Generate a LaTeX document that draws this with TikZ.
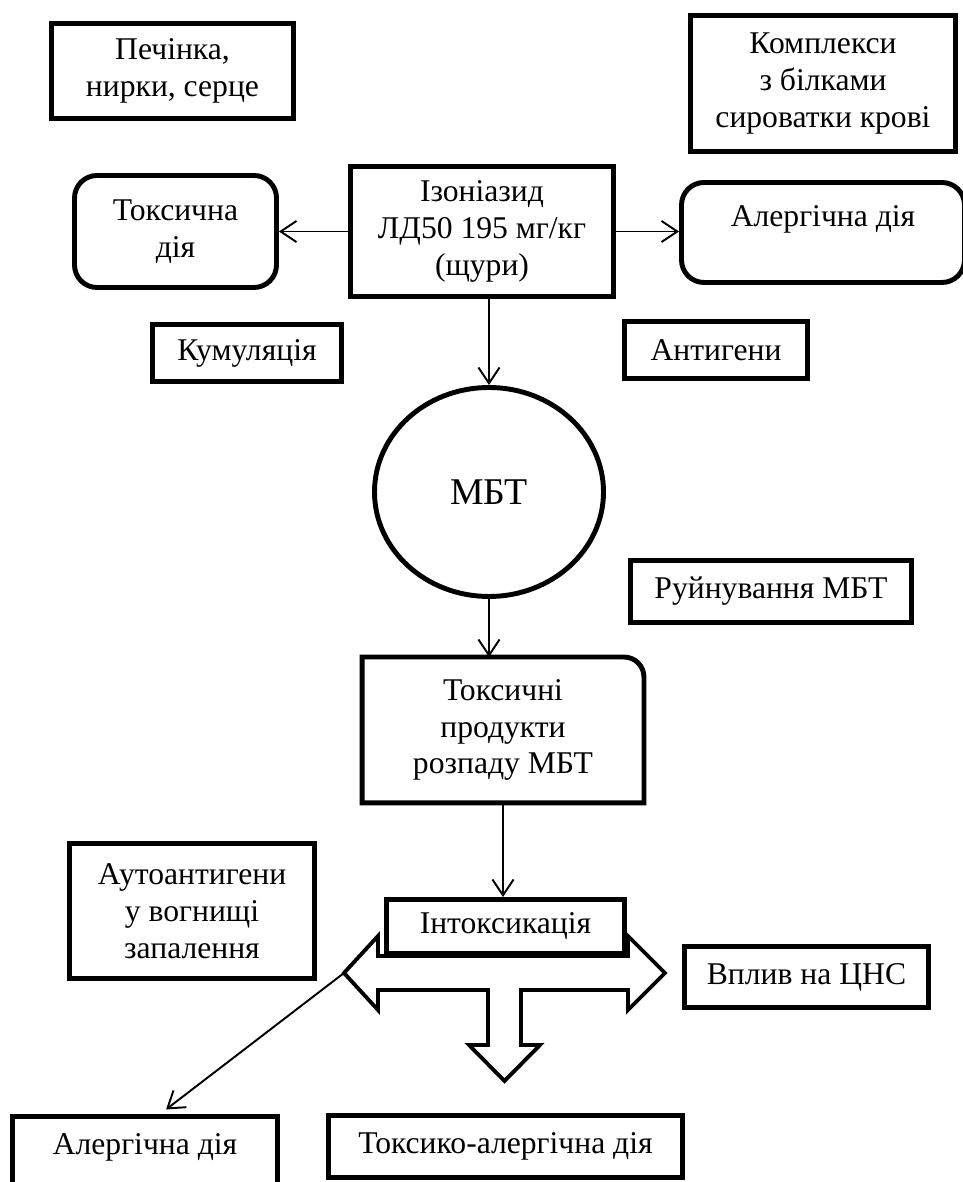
\documentclass[tikz,border=0pt]{standalone}
\usepackage{fontspec}
\setmainfont{Liberation Serif}
\usetikzlibrary{arrows.meta,shapes.geometric}
\tikzset{
	blok/.style={draw, line width=2.8pt, inner sep=0pt, align=center, fill=white},
	okrugl/.style={blok, rounded corners=0.45cm},
	strilka/.style={line width=1.1pt, -{Straight Barb[length=9pt,width=12pt]}},
}

\begin{document}
\begin{tikzpicture}[font=\fontsize{18}{21}\selectfont]
\useasboundingbox (0,0) rectangle (19.26,23.64);
	\node[blok, minimum width=4.84cm, minimum height=1.9cm] (pech) at (3.45,22.22) {Печінка,\\нирки, серце};
	\node[blok, minimum width=5.3cm, minimum height=2.72cm] (kompl) at (16.46,21.97) {Комплекси\\з білками\\сироватки крові};
	\node[okrugl, minimum width=4.04cm, minimum height=2.24cm] (toks) at (3.51,19.01) {Токсична\\дія};
	\node[blok, minimum width=5.26cm, minimum height=2.6cm] (izon) at (9.64,19.01) {Ізоніазид\\ЛД50 195 мг/кг\\(щури)};
	\node[okrugl, minimum width=5.66cm, text height=0.89cm, text depth=1.11cm] (alerg1) at (16.46,18.99) {Алергічна дія};
	\node[blok, minimum width=3.78cm, minimum height=1.14cm] (kumul) at (4.94,16.58) {Кумуляція};
	\node[blok, minimum width=3.66cm, minimum height=1.14cm] (antig) at (14.32,16.64) {Антигени};
	\node[blok, ellipse, minimum width=4.58cm, minimum height=4.18cm, font=\fontsize{21.5}{25}\selectfont] (mbt) at (9.78,13.8) {МБТ};
	\node[blok, minimum width=5.62cm, minimum height=1.24cm] (ruin) at (15.42,11.81) {Руйнування МБТ};
	\node[blok, draw=none, minimum width=5.54cm, minimum height=2.82cm] (prod) at (10.06,9.04) {Токсичні\\продукти\\розпаду МБТ};
	\draw[line width=2.8pt] (prod.south west) -- (prod.north west) -- ([xshift=-0.4cm]prod.north east) arc[start angle=90, end angle=0, radius=0.4cm] -- (prod.south east) -- cycle;
	\node[blok, minimum width=4.9cm, minimum height=2.7cm] (autoant) at (3.84,5.42) {Аутоантигени\\у вогнищі\\запалення};

	\coordinate (ltip) at (6.88,4.18);
	\draw[line width=2.2pt] (ltip) -- (7.56,4.92) -- (7.56,4.52) -- (12.56,4.52) -- (12.56,4.92) -- (13.30,4.18) -- (12.56,3.44) -- (12.56,3.84) -- (10.42,3.84) -- (10.42,2.74) -- (10.80,2.74) -- (10.09,2.02) -- (9.38,2.74) -- (9.76,2.74) -- (9.76,3.84) -- (7.56,3.84) -- (7.56,3.44) -- cycle;

	\node[blok, minimum width=4.76cm, minimum height=1.08cm] (intox) at (10.11,5.11) {Інтоксикація};
	\node[blok, minimum width=4.88cm, minimum height=1.22cm] (cns) at (16.13,4.1) {Вплив на ЦНС};
	\node[blok, anchor=north, minimum width=5.3cm, text height=0.75cm, text depth=1.3cm] (alerg2) at (2.9,1.35) {Алергічна дія};
	\node[blok, minimum width=7.08cm, minimum height=1.24cm] (toksal) at (10.11,0.71) {Токсико-алергічна дія};

	\draw[strilka] (izon) -- (toks);
	\draw[strilka] (izon.east) -- (izon.east -| alerg1.west);
	\draw[strilka] (izon.south -| mbt.north) -- (mbt.north);
	\draw[strilka] (mbt.south) -- (mbt.south |- prod.north);
	\draw[strilka] (prod.south) -- (prod.south |- intox.north);
	\draw[strilka] (ltip) -- ([xshift=0.42cm,yshift=0.1cm]alerg2.north);
\end{tikzpicture}
\end{document}
